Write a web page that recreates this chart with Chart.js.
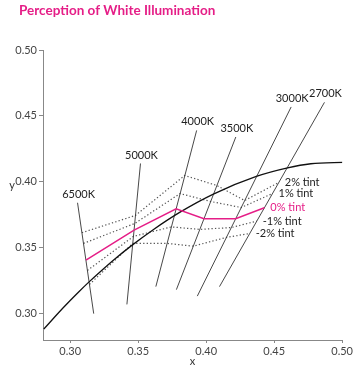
<!DOCTYPE html>
<html>
<head>
<meta charset="utf-8">
<script src="https://cdn.jsdelivr.net/npm/chart.js@4/dist/chart.umd.min.js"></script>
<style>
html,body{margin:0;padding:0;background:#fff;}
#wrap{width:355px;height:367px;}
</style>
</head>
<body>
<div id="wrap"><canvas id="c" width="355" height="367"></canvas></div>
<script>
// ---- data ----
const xTicks = [0.30, 0.35, 0.40, 0.45, 0.50];
const yTicks = [0.30, 0.35, 0.40, 0.45, 0.50];

// Planckian locus (black curve)
const planckX = [0.2806, 0.2952, 0.3064, 0.3135, 0.3221, 0.3324, 0.3451, 0.3608, 0.3805, 0.4053, 0.4369, 0.4599, 0.4770, 0.5020];
const planckY = [0.2883, 0.3048, 0.3166, 0.3237, 0.3318, 0.3411, 0.3516, 0.3635, 0.3768, 0.3907, 0.4041, 0.4106, 0.4137, 0.4148];

// isotemperature lines
const cctLabels = ['6500K', '5000K', '4000K', '3500K', '3000K', '2700K'];
const isoTopX    = [0.3054, 0.3517, 0.3930, 0.4218, 0.4625, 0.4870];
const isoTopY    = [0.3841, 0.4139, 0.4390, 0.4340, 0.4568, 0.4603];
const isoBottomX = [0.3173, 0.3417, 0.3630, 0.3781, 0.3935, 0.4098];
const isoBottomY = [0.3000, 0.3070, 0.3205, 0.3182, 0.3133, 0.3205];

// tint lines (points at 6500K, 5000K, 4000K, 3500K, 3000K, 2700K)
const tintLabels = ['2% tint', '1% tint', '0% tint', '-1% tint', '-2% tint'];
const tintP2X = [0.3086, 0.3480, 0.3842, 0.4079, 0.4283, 0.4534];
const tintP2Y = [0.3614, 0.3745, 0.4048, 0.3972, 0.3858, 0.3995];
const tintP1X = [0.3098, 0.3475, 0.3808, 0.4033, 0.4258, 0.4488];
const tintP1Y = [0.3533, 0.3684, 0.3911, 0.3851, 0.3805, 0.3911];
const tint0X  = [0.3116, 0.3470, 0.3779, 0.3984, 0.4217, 0.4428];
const tint0Y  = [0.3406, 0.3633, 0.3795, 0.3720, 0.3720, 0.3803];
const tintM1X = [0.3127, 0.3465, 0.3744, 0.3953, 0.4185, 0.4372];
const tintM1Y = [0.3328, 0.3586, 0.3658, 0.3639, 0.3653, 0.3702];
const tintM2X = [0.3142, 0.3460, 0.3712, 0.3905, 0.4148, 0.4320];
const tintM2Y = [0.3222, 0.3533, 0.3533, 0.3512, 0.3578, 0.3608];

// ---- build ----
const MAGENTA = '#e51e87';
const FONT = 'Lato, "Open Sans", sans-serif';
const zip = (xs, ys) => xs.map((x, i) => ({x: x, y: ys[i]}));

const tintSets = [
  [tintP2X, tintP2Y], [tintP1X, tintP1Y], [tint0X, tint0Y], [tintM1X, tintM1Y], [tintM2X, tintM2Y]
];

const datasets = [];
tintSets.forEach((s, i) => {
  if (i === 2) return;
  datasets.push({
    data: zip(s[0], s[1]), showLine: true, pointRadius: 0, borderColor: '#555',
    borderWidth: 1.2, borderDash: [1.3, 2.2], tension: 0, order: 5
  });
});
cctLabels.forEach((c, i) => {
  datasets.push({
    data: [{x: isoTopX[i], y: isoTopY[i]}, {x: isoBottomX[i], y: isoBottomY[i]}],
    showLine: true, pointRadius: 0, borderColor: '#333', borderWidth: 0.9, order: 4
  });
});
datasets.push({
  data: zip(planckX, planckY), showLine: true, pointRadius: 0, borderColor: '#111',
  borderWidth: 1.3, cubicInterpolationMode: 'monotone', order: 3
});
datasets.push({
  data: zip(tint0X, tint0Y), showLine: true, pointRadius: 0, borderColor: MAGENTA,
  borderWidth: 1.5, order: 1
});

const textPlugin = {
  id: 'texts',
  afterDraw(chart) {
    const ctx = chart.ctx;
    const xs = chart.scales.x, ys = chart.scales.y;
    ctx.save();
    // title
    ctx.fillStyle = MAGENTA;
    ctx.font = 'bold 13.5px ' + FONT;
    ctx.textAlign = 'left';
    ctx.textBaseline = 'alphabetic';
    ctx.fillText('Perception of White Illumination', 19, 14.5);
    // iso labels
    ctx.font = '11px ' + FONT;
    ctx.fillStyle = '#222';
    ctx.textAlign = 'center';
    ctx.textBaseline = 'middle';
    cctLabels.forEach((c, i) => {
      const px = xs.getPixelForValue(isoTopX[i]);
      const py = ys.getPixelForValue(isoTopY[i]);
      ctx.fillText(c, px + 1, py - 8.5);
    });
    // tint labels
    ctx.textAlign = 'left';
    tintSets.forEach((s, i) => {
      const n = s[0].length - 1;
      const px = xs.getPixelForValue(s[0][n]);
      const py = ys.getPixelForValue(s[1][n]);
      ctx.fillStyle = i === 2 ? MAGENTA : '#222';
      ctx.fillText(tintLabels[i], px + 6, py);
    });
    // axis titles
    ctx.fillStyle = '#333';
    ctx.textAlign = 'center';
    ctx.fillText('y', 12, 185);
    ctx.fillText('x', (chart.chartArea.left + chart.chartArea.right) / 2, 361);
    ctx.restore();
  }
};

new Chart(document.getElementById('c'), {
  type: 'scatter',
  data: {datasets: datasets},
  options: {
    responsive: false,
    animation: false,
    events: [],
    layout: {padding: {top: 50, right: 10, left: 0, bottom: 0}},
    plugins: {legend: {display: false}, tooltip: {enabled: false}, title: {display: false}},
    scales: {
      x: {
        type: 'linear', min: 0.28, max: 0.50,
        afterBuildTicks: s => { s.ticks = xTicks.map(v => ({value: v})); },
        afterFit: s => { s.height = 27; },
        grid: {drawOnChartArea: false, tickLength: 3, color: '#888'},
        border: {color: '#888', width: 1},
        ticks: {color: '#444', font: {family: FONT, size: 11}, padding: 2,
          callback: v => Number(v).toFixed(2), maxRotation: 0}
      },
      y: {
        type: 'linear', min: 0.28, max: 0.50,
        afterBuildTicks: s => { s.ticks = yTicks.map(v => ({value: v})); },
        afterFit: s => { s.width = 43; },
        grid: {drawOnChartArea: false, tickLength: 4, color: '#888'},
        border: {color: '#888', width: 1},
        ticks: {color: '#444', font: {family: FONT, size: 11}, padding: 2,
          callback: v => Number(v).toFixed(2)}
      }
    }
  },
  plugins: [textPlugin]
});
</script>
</body>
</html>
